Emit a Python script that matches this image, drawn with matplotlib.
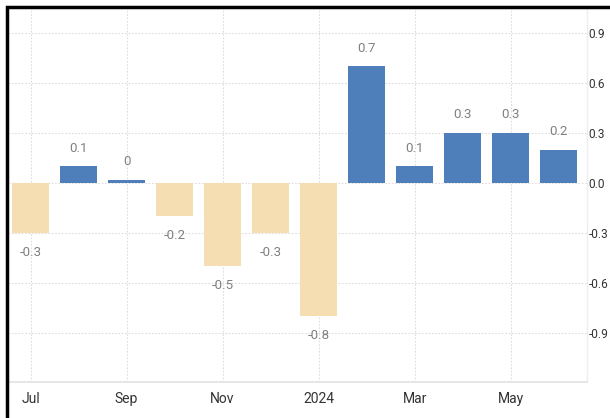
import matplotlib
matplotlib.use('Agg')
import matplotlib.pyplot as plt
from matplotlib.lines import Line2D
import numpy as np

plt.rcParams['font.family'] = ['Roboto', 'DejaVu Sans']

months = ['Jul', 'Aug', 'Sep', 'Oct', 'Nov', 'Dec', 'Jan', 'Feb', 'Mar', 'Apr', 'May', 'Jun']
values = [-0.3, 0.1, 0.02, -0.2, -0.5, -0.3, -0.8, 0.7, 0.1, 0.3, 0.3, 0.2]
tick_idx = [0, 2, 4, 6, 8, 10]
tick_labels = ['Jul', 'Sep', 'Nov', '2024', 'Mar', 'May']
yticks = [0.9, 0.6, 0.3, 0.0, -0.3, -0.6, -0.9]

BLUE = '#4e7fbb'
TAN = '#f4deb2'

fig = plt.figure(figsize=(6.1, 4.18), dpi=100)
ax = fig.add_axes([8/610, 1 - 382/418, (587 - 8)/610, (382 - 8)/418])

x = np.arange(len(values))
colors = [BLUE if v >= 0 else TAN for v in values]
ax.bar(x, values, width=0.77, color=colors, zorder=3)

# value labels above positive bars, below negative ones
for xi, v in zip(x, values):
    txt = '%g' % round(v, 1)
    dy = 18 if v >= 0 else -19
    ax.annotate(txt, (xi, v), xytext=(0, dy), textcoords='offset pixels',
                ha='center', va='center', fontsize=9.5, color='#808080')

ax.set_xlim(-0.47, 11.59)
ax.set_ylim(-1.194, 1.05)

ax.set_xticks(tick_idx)
ax.set_xticklabels(tick_labels)
ax.set_yticks(yticks)
ax.set_yticklabels(['%.1f' % t for t in yticks])
ax.yaxis.tick_right()
ax.tick_params(axis='both', length=0, colors='#333333')
ax.tick_params(axis='y', pad=1, labelsize=8.6)
ax.tick_params(axis='x', pad=7, labelsize=10)

ax.grid(True, color='#dddddd', linestyle=(0, (1.5, 1.5)), linewidth=0.8, zorder=0)

for s in ['top', 'left']:
    ax.spines[s].set_visible(False)
ax.spines['bottom'].set_color('#e2e2e2')
ax.spines['bottom'].set_linewidth(1.2)
ax.spines['right'].set_color('#eeeeee')
ax.spines['right'].set_linewidth(1.0)

# dark frame along the left and top edges
fx = 6.5 / 610
fy = 1 - 6.5 / 418
fig.add_artist(Line2D([fx, fx, 1], [0, fy, fy], transform=fig.transFigure,
                      color='black', linewidth=2.5, solid_joinstyle='miter'))

fig.savefig('out.png', dpi=100)
